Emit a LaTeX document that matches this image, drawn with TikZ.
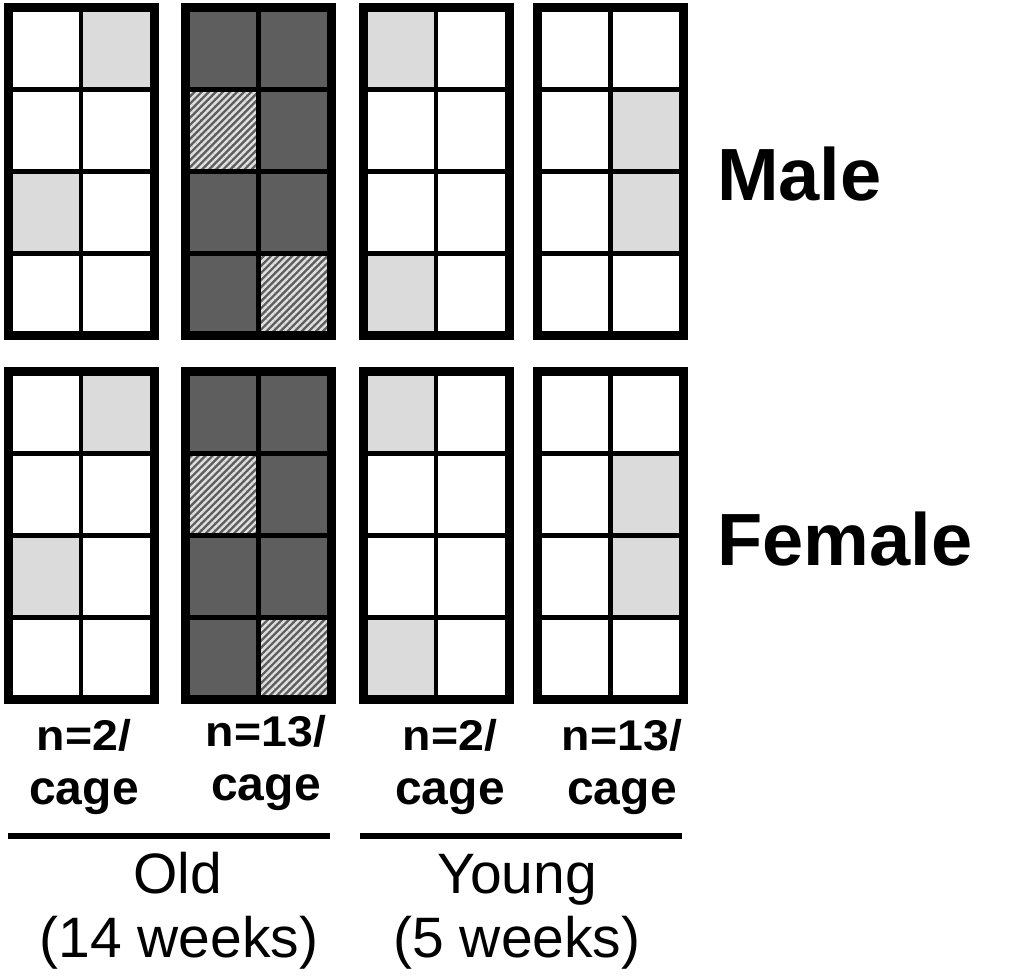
\documentclass[tikz,border=0pt]{standalone}
\usepackage{fontspec}
\setmainfont{Liberation Sans}
\usepackage{tikz}
\usetikzlibrary{patterns.meta}

\begin{document}
\begin{tikzpicture}[x=1pt, y=-1pt,
  wall/.style={line width=9pt},
  grid/.style={line width=4.2pt},
  pale/.style={fill=gray!28},
  dark/.style={fill=black!63},
  hatch/.style={pattern={Lines[angle=45,distance=5pt,line width=2.4pt]}, pattern color=white!88!black},
  cnt/.style={font=\fontsize{43}{43}\selectfont\bfseries, inner sep=0pt, anchor=base},
  cagetxt/.style={font=\fontsize{48}{48}\selectfont\bfseries, inner sep=0pt, anchor=base},
  age/.style={font=\fontsize{57}{57}\selectfont, inner sep=0pt, anchor=base},
  sex/.style={font=\fontsize{74}{74}\selectfont\bfseries, inner sep=0pt, anchor=base west},
  bar/.style={line width=6pt}]
\useasboundingbox (0,0) rectangle (1012,976);

% two rows of cages, same layout
\foreach \cy in {7.5,371.5} {
  \foreach \c/\r in {1/0,0/2} \fill[pale] ({8+73*\c},{\cy+82*\r}) rectangle ++(73,82);
  \fill[dark] (185.5,\cy) rectangle ++(146,328);
  \foreach \c/\r in {0/1,1/3} \fill[hatch] ({185.5+73*\c},{\cy+82*\r}) rectangle ++(73,82);
  \foreach \c/\r in {0/0,0/3} \fill[pale] ({363+73*\c},{\cy+82*\r}) rectangle ++(73,82);
  \foreach \c/\r in {1/1,1/2} \fill[pale] ({537.5+73*\c},{\cy+82*\r}) rectangle ++(73,82);
  \foreach \cx in {8,185.5,363,537.5} {
    \foreach \r in {1,2,3} \draw[grid] (\cx,{\cy+82*\r}) -- ++(146,0);
    \draw[grid] ({\cx+73},\cy) -- ++(0,328);
    \draw[wall] (\cx,\cy) rectangle ++(146,328);
  }
}

\node[sex] (male) at (717,201) {Male};
\node[sex] (female) at (717,565) {Female};

\foreach \i/\x/\y/\nn in {1/84/750/2, 2/266/746/13, 3/450/750/2, 4/622/750/13} {
  \node[cnt] (n\i) at (\x,\y) {\scalebox{1.08}[1]{n=\nn/}};
  \node[cagetxt] (cage\i) at (\x,{\y+54}) {cage};
}

\coordinate (oldL) at (8,836);
\coordinate (oldR) at (330,836);
\coordinate (youngL) at (360,836);
\coordinate (youngR) at (682,836);
\draw[bar] (oldL) -- (oldR);
\draw[bar] (youngL) -- (youngR);

\node[age] (old) at (178,893) {Old};
\node[age] (oldwk) at (179,957) {(14 weeks)};
\node[age] (young) at (517,893) {Young};
\node[age] (youngwk) at (517,957) {(5 weeks)};
\end{tikzpicture}
\end{document}
